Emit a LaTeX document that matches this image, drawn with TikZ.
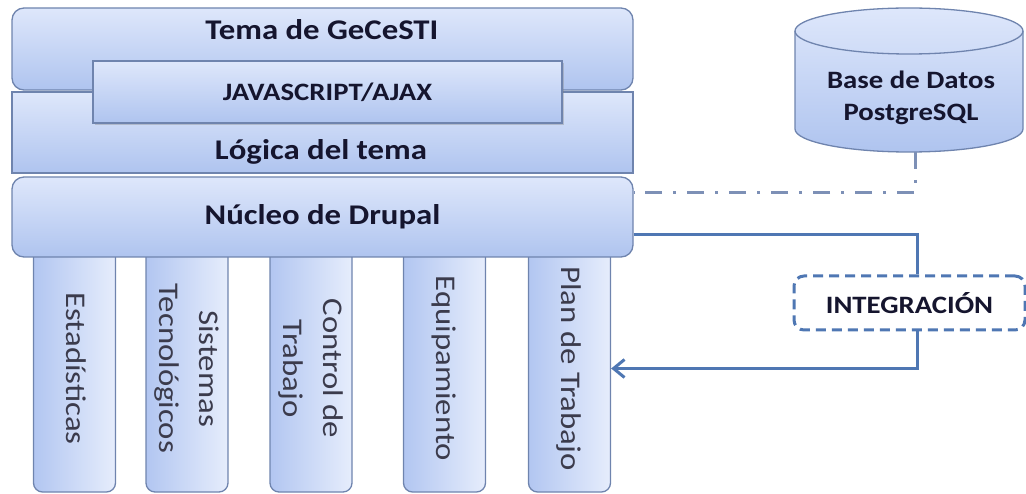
\documentclass[tikz,border=0pt]{standalone}
\usepackage{fontspec}
\setmainfont{Carlito}[FakeStretch=1.15]
\usetikzlibrary{positioning,arrows.meta,shadows}
\definecolor{BoxTop}{HTML}{DEE7FB}
\definecolor{BoxBot}{HTML}{AFC4EF}
\definecolor{BoxLine}{HTML}{6F84AE}
\definecolor{ColDark}{HTML}{B2C6F1}
\definecolor{ColLight}{HTML}{E6EDFC}
\definecolor{TextDark}{HTML}{15152E}
\definecolor{ColText}{HTML}{3B3B4C}
\definecolor{LinkBlue}{HTML}{4F77B3}
\definecolor{DotBlue}{HTML}{7D90B6}
\newcommand{\vlabel}[1]{\rotatebox{-90}{\begin{tabular}{@{}c@{}}#1\end{tabular}}}
\tikzset{
  layer/.style={draw=BoxLine, line width=1.3pt, top color=BoxTop, bottom color=BoxBot,
    minimum width=621pt, inner sep=0pt, text=TextDark},
  module/.style={draw=BoxLine, line width=1.3pt, left color=ColDark, right color=ColLight,
    rounded corners=9pt, minimum width=82pt, minimum height=247pt, inner sep=0pt,
    text=ColText, font=\fontsize{28.5}{40}\selectfont},
  title/.style={text=TextDark, font=\bfseries\fontsize{28.5}{34}\selectfont, inner sep=0pt},
  subtitle/.style={text=TextDark, font=\bfseries\fontsize{25}{32}\selectfont, inner sep=0pt},
  link/.style={draw=LinkBlue, line width=3pt},
  dashdot/.style={draw=DotBlue, line width=3pt, dash pattern=on 17pt off 11pt on 3pt off 11pt},
}

\begin{document}
\begin{tikzpicture}[x=1pt, y=-1pt]
\useasboundingbox (0,0) rectangle (1026,494);

\node[module] (estad) at (74.5,368.5) {\vlabel{Estadísticas}};
\node[module] (sistemas) at (187,368.5) {\vlabel{Sistemas\\Tecnológicos}};
\node[module] (control) at (311,368.5) {\vlabel{Control de\\Trabajo}};
\node[module] (equipo) at (444.5,368.5) {\vlabel{Equipamiento}};
\node[module] (plan) at (569.5,368.5) {\vlabel{Plan de Trabajo}};

\node[layer, rounded corners=12pt, minimum height=80pt, title] (nucleo) at (322.5,217) {Núcleo de Drupal};
\node[layer, minimum height=81pt] (logica) at (322.5,132.5) {};
\node[layer, rounded corners=12pt, minimum height=82pt] (tema) at (322.5,49) {};
\node[layer, subtitle, minimum width=469pt, minimum height=62pt,
  drop shadow={shadow xshift=2pt, shadow yshift=-2pt, opacity=0.35}] (js) at (327.5,92) {JAVASCRIPT/AJAX};

\node[title, anchor=base] (temaT) at (322,40) {Tema de GeCeSTI};
\node[title, anchor=base] (logicaT) at (321,160) {Lógica del tema};

\draw[draw=BoxLine, line width=1.3pt, top color=BoxTop, bottom color=BoxBot]
  (795,31) -- (795,129) arc[start angle=180, end angle=0, x radius=114, y radius=23]
  -- (1023,31) arc[start angle=0, end angle=-180, x radius=114, y radius=23] -- cycle;
\draw[draw=BoxLine, line width=1.3pt] (795,31) arc[start angle=180, end angle=0, x radius=114, y radius=23];
\node[subtitle, align=center] (db) at (911,98) {Base de Datos\\PostgreSQL};
\coordinate (dbbot) at (915,152);

\node[subtitle, draw=LinkBlue, line width=3pt, dash pattern=on 10pt off 6pt, rounded corners=10pt,
  fill=white, minimum width=231pt, minimum height=54pt] (integ) at (909.5,303) {INTEGRACIÓN};

\draw[dashdot] (dbbot) |- ([yshift=24pt]nucleo.east);
\draw[link] ([yshift=-18pt]nucleo.east) -| ([xshift=7.5pt]integ.north);
\draw[link, -{Straight Barb[length=11pt, width=18pt]}] ([xshift=7.5pt]integ.south) |- (plan);
\end{tikzpicture}
\end{document}
